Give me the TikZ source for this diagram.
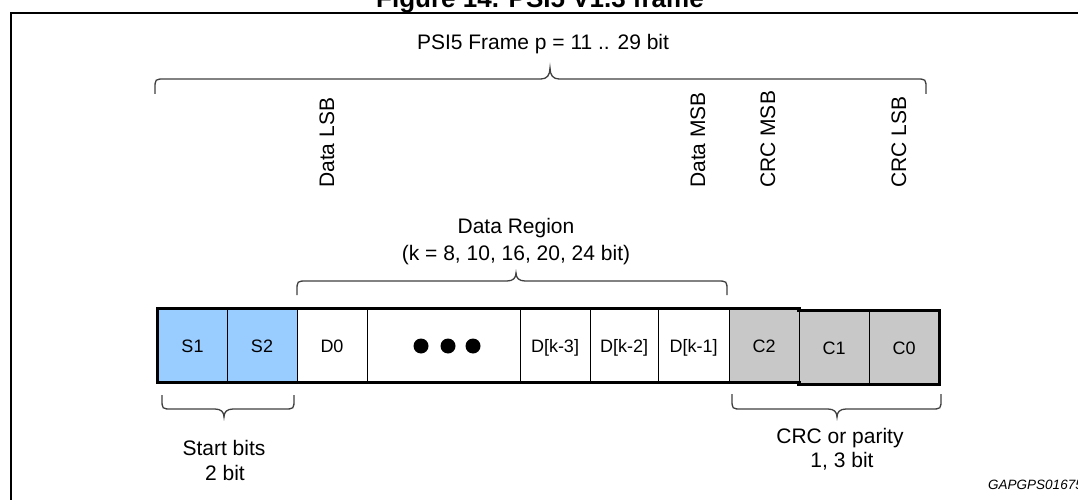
\documentclass[tikz,border=0pt]{standalone}
\usepackage{fontspec}
\setmainfont{Liberation Sans}
\definecolor{startblue}{RGB}{153,204,255}
\definecolor{crcgray}{RGB}{200,200,200}
\definecolor{bracegray}{RGB}{64,64,64}
\begin{document}
\begin{tikzpicture}[x=1pt,y=-1pt,
  lbl/.style={inner sep=0pt, font=\fontsize{21}{25}\selectfont},
  rlbl/.style={lbl, rotate=90, anchor=west},
  cell/.style={draw=black, line width=0.8pt, minimum height=73pt, text height=13pt, text depth=0pt, inner sep=0pt, font=\fontsize{18}{22}\selectfont},
  sbit/.style={cell, fill=startblue},
  cbit/.style={cell, fill=crcgray},
  dbit/.style={cell, fill=white},
  brace/.style={draw=bracegray, line width=1.3pt},
  outer/.style={line width=3pt, line cap=rect}]
\useasboundingbox (0,0) rectangle (1078,500);
\fill[white] (0,0) rectangle (1078,500);

% title (cut off by page top) and frame
\node[font=\bfseries\fontsize{26}{30}\selectfont, anchor=base, inner sep=0pt] (title) at (540,8) {Figure 14. PSI5 V1.3 frame};
\draw[line width=2pt] (11,520) -- (11,13) -- (1100,13);

% top label and brace
\node[lbl, anchor=base] (frame) at (543,50) {PSI5 Frame p = 11 .. 29 bit};
\draw[brace] (155,94) -- (155,89) .. controls (155,79) .. (165,79) -- (541,79)
  .. controls (547,79) and (550,75) .. (550,68)
  .. controls (550,75) and (553,79) .. (559,79) -- (916,79)
  .. controls (926,79) .. (926,89) -- (926,94);

% rotated labels
\node[rlbl] (dlsb) at (327,188) {Data LSB};
\node[rlbl] (dmsb) at (698,188) {Data MSB};
\node[rlbl] (cmsb) at (768,188) {CRC MSB};
\node[rlbl] (clsb) at (899,188) {CRC LSB};

% data region label and brace
\node[lbl, anchor=base] (dr1) at (516,233) {Data Region};
\node[lbl, anchor=base] (dr2) at (516,260) {(k = 8, 10, 16, 20, 24 bit)};
\draw[brace] (297,295) -- (297,291) .. controls (297,281) .. (307,281) -- (507,281)
  .. controls (513,281) and (516,278) .. (516,273)
  .. controls (516,278) and (519,281) .. (525,281) -- (717,281)
  .. controls (727,281) .. (727,291) -- (727,295);

% cells
\node[sbit, minimum width=69pt] (s1) at (192.5,345.5) {S1};
\node[sbit, minimum width=70pt] (s2) at (262,345.5) {S2};
\node[dbit, minimum width=70pt] (d0) at (332,345.5) {D0};
\node[dbit, minimum width=153pt] (dots) at (443.5,345.5) {};
\node[dbit, minimum width=70pt] (dk3) at (555,345.5) {D[k-3]};
\node[dbit, minimum width=68pt] (dk2) at (624,345.5) {D[k-2]};
\node[dbit, minimum width=71pt] (dk1) at (693.5,345.5) {D[k-1]};
\node[cbit, minimum width=70pt] (c2) at (764,345.5) {C2};
\node[cbit, minimum width=70pt] (c1) at (834,347.5) {C1};
\node[cbit, minimum width=70pt] (c0) at (904,347.5) {C0};
\fill (421,346) circle (7.5pt);
\fill (448,346) circle (7.5pt);
\fill (473,346) circle (7.5pt);

% thick outer border
\draw[outer] (s1.north west) -- (c2.north east);
\draw[outer] (c1.north west) -- (c0.north east) -- (c0.south east) -- (c1.south west);
\draw[outer] (c2.south east) -- (s1.south west) -- (s1.north west);

% bottom braces
\draw[brace] (162,395) -- (162,399) .. controls (162,409) .. (172,409) -- (215,409)
  .. controls (221,409) and (224,412) .. (224,417)
  .. controls (224,412) and (227,409) .. (233,409) -- (284,409)
  .. controls (294,409) .. (294,399) -- (294,395);
\draw[brace] (732,394) -- (732,399) .. controls (732,409) .. (742,409) -- (828,409)
  .. controls (834,409) and (837,412) .. (837,417)
  .. controls (837,412) and (840,409) .. (846,409) -- (931,409)
  .. controls (941,409) .. (941,399) -- (941,394);

\node[lbl, anchor=base] (sb1) at (224,455) {Start bits};
\node[lbl, anchor=base] (sb2) at (225,480) {2 bit};
\node[lbl, anchor=base] (cp1) at (840,443) {CRC or parity};
\node[lbl, anchor=base] (cp2) at (842,467) {1, 3 bit};

\node[inner sep=0pt, anchor=base west, font=\itshape\fontsize{13.5}{16}\selectfont] (code) at (988,489) {GAPGPS01675};
\end{tikzpicture}
\end{document}
